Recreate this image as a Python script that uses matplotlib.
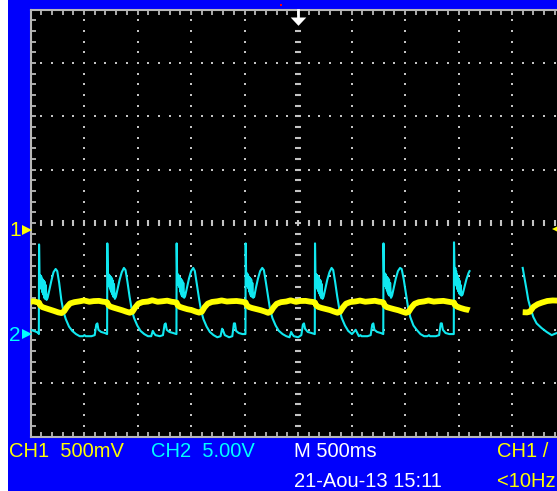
import numpy as np
import matplotlib
matplotlib.use('Agg')
import matplotlib.pyplot as plt
from matplotlib.patches import Rectangle

W, H = 557, 491

BLUE = '#0000fc'
YELLOW = '#ffff00'
CYAN = '#10e8f0'
CYAN_TXT = '#00ffff'
GRID = '#c4c4c4'

# scope settings
T_DIV = 500.0        # ms / div
CH1_SCALE = 0.5      # V / div
CH2_SCALE = 5.0      # V / div
CH1_POS = -0.13      # div
CH2_POS = -2.08      # div
TRIG_LEVEL = 0.01    # V on CH1

# CH2 record (ms, V), first sweep
ch2_t = [
    0, 30, 55, 76,
    78, 80, 84, 88, 92, 96, 100, 104, 108, 112, 116, 120, 124, 128, 132, 136, 142, 150, 160, 175, 195, 215,
    235, 250, 268, 288, 308, 330, 360, 390, 425, 460, 490, 505, 515, 530, 570, 600, 615, 625, 635, 660, 695,
    716, 718, 722, 726, 730, 734, 738, 742, 746, 750, 754, 758, 762, 766, 770, 774, 780, 788, 798, 813, 833,
    853, 873, 888, 906, 926, 946, 968, 998, 1028, 1063, 1098, 1128, 1143, 1153, 1168, 1208, 1238, 1253, 1263,
    1273, 1298, 1333,
    1364, 1366, 1370, 1374, 1378, 1382, 1386, 1390, 1394, 1398, 1402, 1406, 1410, 1414, 1418, 1422, 1428,
    1436, 1446, 1461, 1481, 1501, 1521, 1536, 1554, 1574, 1594, 1616, 1646, 1676, 1711, 1746, 1776, 1791,
    1801, 1816, 1856, 1886, 1901, 1911, 1921, 1946, 1981,
    2009, 2011, 2015, 2019, 2023, 2027, 2031, 2035, 2039, 2043, 2047, 2051, 2055, 2059, 2063, 2067, 2073,
    2081, 2091, 2106, 2126, 2146, 2166, 2181, 2199, 2219, 2239, 2261, 2291, 2321, 2356, 2391, 2421, 2436,
    2446, 2461, 2501, 2531, 2546, 2556, 2566, 2591, 2626,
    2657, 2659, 2663, 2667, 2671, 2675, 2679, 2683, 2687, 2691, 2695, 2699, 2703, 2707, 2711, 2715, 2721,
    2729, 2739, 2754, 2774, 2794, 2814, 2829, 2847, 2867, 2887, 2909, 2939, 2969, 3004, 3039, 3069, 3084,
    3094, 3109, 3149, 3179, 3194, 3204, 3214, 3239, 3274,
    3297, 3299, 3303, 3307, 3311, 3315, 3319, 3323, 3327, 3331, 3335, 3339, 3343, 3347, 3351, 3355, 3361,
    3369, 3379, 3394, 3414, 3434, 3454, 3469, 3487, 3507, 3527, 3549, 3579, 3609, 3644, 3679, 3709, 3724,
    3734, 3749, 3789, 3819, 3834, 3844, 3854, 3879, 3914,
    3956, 3958, 3962, 3966, 3970, 3974, 3978, 3982, 3986, 3990, 3994, 3998, 4002, 4006, 4010, 4014, 4020,
    4028, 4038, 4053, 4073, 4093, 4103,
]
ch2_v = [
    0.4, 0.3, 0.2, 0.1,
    0.0, 8.4, 5.6, 4.8, 5.5, 4.3, 5.4, 4.2, 5.2, 3.9, 5.1, 3.7, 5.0, 3.4, 4.9, 3.3, 4.6, 3.2, 3.4, 4.1, 5.0, 5.8,
    6.1, 5.9, 4.8, 3.2, 2.1, 1.4, 0.7, 0.3, 0.0, -0.2, -0.2, -0.1, -0.2, -0.2, -0.2, -0.1, 0.9, 1.0, 0.4, 0.2, 0.1,
    0.0, 8.5, 5.8, 4.9, 5.6, 4.5, 5.5, 4.3, 5.4, 4.1, 5.3, 3.9, 5.2, 3.7, 5.0, 3.5, 4.7, 3.3, 3.5, 4.2, 5.1,
    5.8, 6.2, 6.0, 4.9, 3.5, 2.3, 1.5, 0.8, 0.3, 0.0, -0.2, -0.2, 0.3, 0.1, -0.1, -0.2, -0.1, 0.9, 1.0,
    0.4, 0.2, 0.1,
    0.0, 8.5, 5.7, 5.0, 5.6, 4.6, 5.5, 4.4, 5.3, 4.0, 5.2, 3.8, 5.1, 3.6, 5.0, 3.5, 4.8,
    3.4, 3.6, 4.3, 5.2, 5.9, 6.2, 5.9, 4.7, 3.4, 2.2, 1.4, 0.7, 0.2, -0.1, -0.3, -0.2, 0.5,
    0.3, -0.1, -0.3, -0.2, 1.0, 1.0, 0.3, 0.1, 0.0,
    0.0, 8.5, 5.8, 4.8, 5.7, 4.5, 5.6, 4.3, 5.4, 4.0, 5.3, 3.8, 5.2, 3.6, 5.1, 3.5, 4.8,
    3.4, 3.5, 4.3, 5.2, 5.9, 6.2, 6.0, 4.9, 3.6, 2.3, 1.5, 0.8, 0.3, 0.0, -0.2, -0.3, 0.2,
    0.0, -0.2, -0.3, -0.1, 0.9, 1.0, 0.5, 0.2, 0.1,
    0.0, 8.5, 5.7, 4.9, 5.6, 4.4, 5.5, 4.2, 5.4, 4.0, 5.3, 3.8, 5.1, 3.6, 5.0, 3.4, 4.7,
    3.3, 3.5, 4.2, 5.1, 5.8, 6.2, 6.0, 4.9, 3.5, 2.3, 1.5, 0.8, 0.3, 0.0, 0.4, -0.2, -0.1,
    -0.2, -0.2, -0.2, -0.1, 0.9, 1.0, 0.4, 0.2, 0.1,
    0.0, 8.5, 5.9, 4.8, 5.7, 4.5, 5.6, 4.3, 5.4, 4.1, 5.3, 3.9, 5.2, 3.7, 5.1, 3.6, 4.8,
    3.4, 3.6, 4.3, 5.2, 5.9, 6.2, 6.1, 5.2, 3.9, 2.6, 1.6, 0.8, 0.4, 0.0, -0.2, -0.2, -0.1,
    -0.2, -0.2, -0.2, -0.1, 1.0, 1.0, 0.4, 0.1, 0.0,
    0.0, 8.6, 6.4, 5.0, 6.2, 4.7, 5.9, 4.5, 5.6, 4.2, 5.4, 4.0, 5.2, 3.8, 5.0, 3.7, 4.6,
    3.6, 3.7, 4.3, 5.1, 5.7, 5.9,
]

# CH1 record (ms, V), first sweep
ch1_t = [
    0, 30, 60,
    80, 90, 110, 140, 180, 220, 260, 290, 315, 340, 370, 410, 460, 500, 550, 590, 640, 680, 710,
    718, 728, 748, 778, 818, 858, 898, 928, 953, 978, 1008, 1048, 1098, 1138, 1188, 1228, 1278, 1318, 1348,
    1366, 1376, 1396, 1426, 1466, 1506, 1546, 1576, 1601, 1626, 1656, 1696, 1746, 1786, 1836, 1876, 1926, 1966, 1996,
    2011, 2021, 2041, 2071, 2111, 2151, 2191, 2221, 2246, 2271, 2301, 2341, 2391, 2431, 2481, 2521, 2571, 2611, 2641,
    2659, 2669, 2689, 2719, 2759, 2799, 2839, 2869, 2894, 2919, 2949, 2989, 3039, 3079, 3129, 3169, 3219, 3259, 3289,
    3299, 3309, 3329, 3359, 3399, 3439, 3479, 3509, 3534, 3559, 3589, 3629, 3679, 3719, 3769, 3809, 3859, 3899, 3929,
    3958, 3968, 3988, 4018, 4058, 4098, 4103,
]
ch1_v = [
    -0.672, -0.668, -0.676,
    -0.680, -0.705, -0.722, -0.732, -0.745, -0.758, -0.772, -0.778, -0.760, -0.722, -0.688, -0.676, -0.668,
    -0.660, -0.672, -0.666, -0.664, -0.672, -0.675,
    -0.680, -0.704, -0.718, -0.728, -0.740, -0.752, -0.766, -0.775, -0.765, -0.726, -0.690, -0.675, -0.670,
    -0.658, -0.672, -0.668, -0.662, -0.672, -0.676,
    -0.680, -0.706, -0.720, -0.730, -0.742, -0.750, -0.765, -0.774, -0.766, -0.724, -0.690, -0.674, -0.668,
    -0.660, -0.670, -0.667, -0.665, -0.670, -0.675,
    -0.679, -0.705, -0.721, -0.731, -0.741, -0.751, -0.764, -0.776, -0.764, -0.725, -0.691, -0.676, -0.670,
    -0.659, -0.673, -0.665, -0.664, -0.671, -0.674,
    -0.680, -0.705, -0.720, -0.730, -0.740, -0.750, -0.765, -0.775, -0.765, -0.725, -0.690, -0.675, -0.669,
    -0.661, -0.672, -0.668, -0.663, -0.672, -0.675,
    -0.681, -0.706, -0.722, -0.731, -0.742, -0.752, -0.766, -0.776, -0.767, -0.727, -0.692, -0.676, -0.669,
    -0.660, -0.671, -0.667, -0.664, -0.671, -0.676,
    -0.680, -0.705, -0.718, -0.730, -0.742, -0.750, -0.752,
]

# second sweep, after the gap
ch2_t2 = [4600, 4637, 4652, 4668, 4699, 4730, 4777, 4824, 4871, 4918, 4945]
ch2_v2 = [6.2, 4.1, 3.2, 2.6, 1.6, 1.0, 0.56, 0.2, -0.1, 0.1, 0.0]
ch1_t2 = [4600, 4640, 4668, 4700, 4740, 4780, 4830, 4880, 4945]
ch1_v2 = [-0.770, -0.772, -0.765, -0.720, -0.695, -0.680, -0.665, -0.660, -0.662]

readout_row1 = [('CH1  500mV', 9, YELLOW), ('CH2  5.00V', 151, CYAN_TXT),
                ('M 500ms', 294, 'white'), ('CH1 /', 497, YELLOW)]
readout_row2 = [('21-Aou-13 15:11', 294, 'white'), ('<10Hz', 497, YELLOW)]

plt.rcParams['font.family'] = ['Liberation Sans', 'DejaVu Sans']


def fxy(px, py):
    return px / W, 1 - py / H


fig = plt.figure(figsize=(W / 100, H / 100), dpi=100, facecolor='white')
fig.patches.append(Rectangle((8 / W, 0), 1, 1, transform=fig.transFigure,
                             facecolor=BLUE, edgecolor='none', zorder=-10))

ax = fig.add_axes([30.5 / W, 1 - 436.5 / H, 535 / W, 426.8 / H])
ax.set_facecolor('black')
ax.set_xlim(0, 10)
ax.set_ylim(-4, 4)
for s in ax.spines.values():
    s.set_color('#b8b8b8')
    s.set_linewidth(1.5)
ax.set_xticks(np.arange(0, 10.01, 1))
ax.set_yticks(np.arange(-4, 4.01, 1))
ax.set_xticks(np.arange(0, 10.01, 0.2), minor=True)
ax.set_yticks(np.arange(-4, 4.01, 0.2), minor=True)
ax.tick_params(which='both', direction='in', length=3.6, width=1.3, color='#b8b8b8',
               top=True, right=True, labelbottom=False, labelleft=False)

# dotted graticule
ys = np.arange(-3.8, 3.81, 0.2)
xs = np.arange(0.2, 9.81, 0.2)
for gx in [1, 2, 3, 4, 6, 7, 8, 9]:
    ax.plot(np.full(len(ys), gx), ys, 's', ms=1.6, mew=0, color=GRID, zorder=1)
for gy in [-3, -2, -1, 1, 2, 3]:
    ax.plot(xs, np.full(len(xs), gy), 's', ms=1.6, mew=0, color=GRID, zorder=1)
# centre cross with tick dashes
ax.plot(np.full(len(ys), 5), ys, '_', ms=4.6, mew=1.5, color=GRID, zorder=1)
ax.plot(xs, np.zeros(len(xs)), '|', ms=4.6, mew=1.5, color=GRID, zorder=1)

# traces
ax.plot(np.array(ch2_t) / T_DIV, CH2_POS + np.array(ch2_v) / CH2_SCALE,
        color=CYAN, lw=1.5, zorder=3)
ax.plot(np.array(ch2_t2) / T_DIV, CH2_POS + np.array(ch2_v2) / CH2_SCALE,
        color=CYAN, lw=1.5, zorder=3)
ax.plot(np.array(ch1_t) / T_DIV, CH1_POS + np.array(ch1_v) / CH1_SCALE,
        color=YELLOW, lw=4.2, solid_capstyle='butt', zorder=4)
ax.plot(np.array(ch1_t2) / T_DIV, CH1_POS + np.array(ch1_v2) / CH1_SCALE,
        color=YELLOW, lw=4.2, solid_capstyle='butt', zorder=4)

# trigger position arrow
ax.plot([5, 5], [4, 3.86], color='white', lw=2, clip_on=False, zorder=5)
ax.plot([5], [3.87], marker=[(-7.5, 0), (7.5, 0), (0, -8)], ms=12, mew=0,
        color='white', clip_on=False, zorder=5)
ax.plot([4.68], [4.09], 's', ms=1.6, mew=0, color='red', clip_on=False, zorder=5)
# trigger level
ax.plot([9.84], [CH1_POS + TRIG_LEVEL / CH1_SCALE], '<', ms=6.5, mew=0, color=YELLOW,
        clip_on=False, zorder=5)

# channel ground markers
ax.plot([-0.07], [CH1_POS], '>', ms=6.5, mew=0, color=YELLOW, clip_on=False, zorder=5)
ax.plot([-0.07], [CH2_POS], '>', ms=6.5, mew=0, color=CYAN_TXT, clip_on=False, zorder=5)
fig.text(*fxy(9, 236), '1', color=YELLOW, fontsize=15, va='baseline')
fig.text(*fxy(9, 341), '2', color=CYAN_TXT, fontsize=15, va='baseline')

for txt, x, c in readout_row1:
    fig.text(*fxy(x, 457), txt, color=c, fontsize=14.5, va='baseline')
for txt, x, c in readout_row2:
    fig.text(*fxy(x, 487), txt, color=c, fontsize=14.5, va='baseline')

fig.savefig('out.png', dpi=100, facecolor=fig.get_facecolor())
